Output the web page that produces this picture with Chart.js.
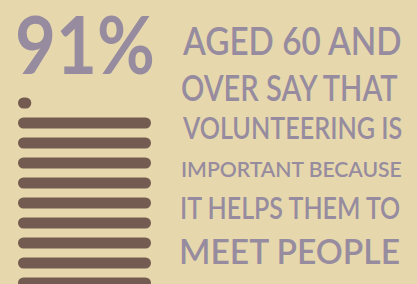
<!DOCTYPE html>
<html>
<head>
<meta charset="utf-8">
<script src="https://cdn.jsdelivr.net/npm/chart.js@4"></script>
<style>
  html, body { margin: 0; padding: 0; }
  body { width: 417px; height: 284px; overflow: hidden; background: #e6d8ac; position: relative; }
  #chartBox { position: absolute; left: 0; top: 0; width: 170px; height: 300px; }
  .txt { position: absolute; white-space: nowrap; color: #978c9f; transform-origin: 0 0; margin: 0; }
</style>
</head>
<body>
<div id="chartBox"><canvas id="blocks"></canvas></div>
<div class="txt" id="big">91%</div>
<div class="txt" id="l1">AGED 60 AND</div>
<div class="txt" id="l2">OVER SAY THAT</div>
<div class="txt" id="l3">VOLUNTEERING IS</div>
<div class="txt" id="l4">IMPORTANT BECAUSE</div>
<div class="txt" id="l5">IT HELPS THEM TO</div>
<div class="txt" id="l6">MEET PEOPLE</div>
<script>
// 91% shown as ten blocks: nine full ones and a tenth of one
let blockLabels = ['10', '9', '8', '7', '6', '5', '4', '3', '2', '1'];
let blockFill = [0.1, 1, 1, 1, 1, 1, 1, 1, 1, 1];

const FONT = 'Lato, "Open Sans", sans-serif';
const measure = document.createElement('canvas').getContext('2d');

// size a line so its ink box lands on the given edges
function fitText(id, left, right, inkTop, inkBottom, weight) {
    let el = document.getElementById(id);
    let text = el.textContent;
    measure.font = weight + ' 100px ' + FONT;
    let m = measure.measureText(text);
    let inkH = m.actualBoundingBoxAscent + m.actualBoundingBoxDescent;
    let size = 100 * (inkBottom - inkTop) / inkH;
    measure.font = weight + ' ' + size + 'px ' + FONT;
    m = measure.measureText(text);
    let inkW = m.actualBoundingBoxLeft + m.actualBoundingBoxRight;
    let sx = (right - left) / inkW;
    let baseline = inkTop + m.actualBoundingBoxAscent;
    el.style.font = weight + ' ' + size + 'px ' + FONT;
    el.style.lineHeight = (m.fontBoundingBoxAscent + m.fontBoundingBoxDescent) + 'px';
    el.style.top = (baseline - m.fontBoundingBoxAscent) + 'px';
    el.style.left = (left + m.actualBoundingBoxLeft * sx) + 'px';
    el.style.transform = 'scaleX(' + sx + ')';
}

fitText('big', 18, 153, 15, 75, 700);
fitText('l1', 182, 402, 27, 55, 600);
fitText('l2', 182, 400, 75, 102, 600);
fitText('l3', 182, 402, 117, 139, 600);
fitText('l4', 182, 402, 162, 178, 600);
fitText('l5', 182, 402, 197, 219, 600);
fitText('l6', 182, 400, 239, 265, 600);

const ctx = document.getElementById('blocks');
const blockChart = new Chart(ctx, {
    type: 'bar',
    data: {
        labels: blockLabels,
        datasets: [
            {
                label: '',
                data: blockFill,
                backgroundColor: '#745b51',
                borderRadius: 5.5,
                borderSkipped: false,
                categoryPercentage: 1,
                barPercentage: 0.56
            }
        ]
    },
    options: {
        indexAxis: 'y',
        responsive: true,
        maintainAspectRatio: false,
        animation: false,
        layout: {
            padding: { left: 18, right: 19, top: 93, bottom: 7 }
        },
        scales: {
            x: { display: false, min: 0, max: 1 },
            y: { display: false }
        },
        plugins: {
            legend: { display: false },
            tooltip: { enabled: false }
        }
    }
});
</script>
</body>
</html>
